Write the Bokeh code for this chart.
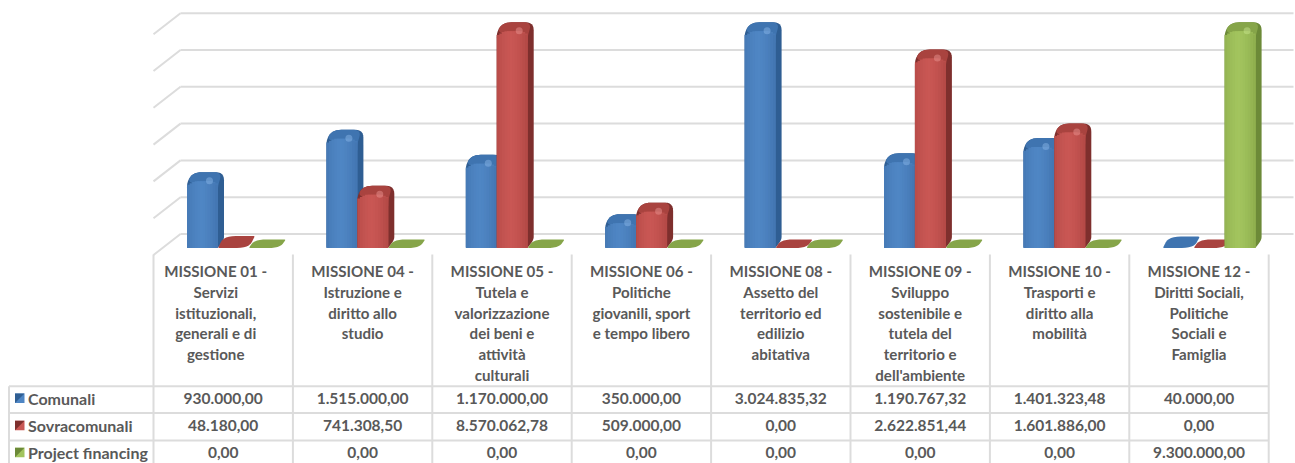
from bokeh.core.properties import value
from bokeh.embed import file_html
from bokeh.models import Range1d
from bokeh.plotting import figure
from bokeh.resources import INLINE

# Data table: one label block and three amounts per mission
missions = [
    ["MISSIONE 01 -", "Servizi", "istituzionali,", "generali e di", "gestione"],
    ["MISSIONE 04 -", "Istruzione e", "diritto allo", "studio"],
    ["MISSIONE 05 -", "Tutela e", "valorizzazione", "dei beni e", "attività", "culturali"],
    ["MISSIONE 06 -", "Politiche", "giovanili, sport", "e tempo libero"],
    ["MISSIONE 08 -", "Assetto del", "territorio ed", "edilizio", "abitativa"],
    ["MISSIONE 09 -", "Sviluppo", "sostenibile e", "tutela del", "territorio e", "dell'ambiente"],
    ["MISSIONE 10 -", "Trasporti e", "diritto alla", "mobilità"],
    ["MISSIONE 12 -", "Diritti Sociali,", "Politiche", "Sociali e", "Famiglia"],
]
comunali = [930000.00, 1515000.00, 1170000.00, 350000.00, 3024835.32, 1190767.32, 1401323.48, 40000.00]
sovracomunali = [48180.00, 741308.50, 8570062.78, 509000.00, 0.00, 2622851.44, 1601886.00, 0.00]
project_financing = [0.00, 0.00, 0.00, 0.00, 0.00, 0.00, 0.00, 9300000.00]
series_names = ["Comunali", "Sovracomunali", "Project financing"]
grid_ticks = [0, 500000, 1000000, 1500000, 2000000, 2500000, 3000000]
axis_max = 3000000

# Per-series shades: front face edge, front face centre, top face, side face, highlight
palette = [
    ("#4477B3", "#4F86C4", "#3F74B0", "#2F5E93", "#8DBBEA"),
    ("#B54A47", "#C95754", "#A9433F", "#7E2F2D", "#EE9A96"),
    ("#90B04F", "#A2C45E", "#86A549", "#6C8A38", "#CDE992"),
]

W, H = 1295, 463
TEXT = "#595959"
LINE = "#DCDCDC"
FONT = value("Lato")

# Page layout, in screen pixels
COL_LEFT, COL_STEP = 153.0, 139.4
TABLE_LEFT = 8.5
ROW_LINES = [385.7, 412.6, 440.0]
ROW_TEXT = [398.0, 425.2, 452.3]
HEAD_TOP, HEAD_LINE_STEP = 270.2, 20.9
BAR_LEFT, BAR_STEP, FACE_W, SKEW, DEPTH = 186.5, 30.9, 31.0, 6.0, 9.0

# Vertical scales: bars stand in the middle of the depth, the wall sits behind them
BAR_ZERO, BAR_SCALE = 239.0, 7.24e-5
WALL_ZERO, WALL_SCALE = 233.5, 36.8 / 500000

p = figure(
    width=W, height=H, output_backend="svg", toolbar_location=None,
    x_range=Range1d(0, W), y_range=Range1d(H, 0),
    x_axis_location=None, y_axis_location=None,
    min_border=0, outline_line_color=None, background_fill_color="white",
)
p.grid.visible = False
p.extra_y_ranges = {
    "bars": Range1d((BAR_ZERO - H) / BAR_SCALE, BAR_ZERO / BAR_SCALE),
    "wall": Range1d((WALL_ZERO - H) / WALL_SCALE, WALL_ZERO / WALL_SCALE),
}


def px(offset):
    """Convert a vertical pixel distance to units of the bar scale."""
    return offset / BAR_SCALE


def rounded(points):
    """Round each polygon corner; points are (x, y, radius) with y in bar-scale units."""
    out = []
    n = len(points)
    for i, (x, y, r) in enumerate(points):
        if r <= 0:
            out.append((x, y))
            continue
        xa, ya, _ = points[i - 1]
        xb, yb, _ = points[(i + 1) % n]
        y_p = y * BAR_SCALE

        def towards(xo, yo):
            d = max(((xo - x) ** 2 + (yo - y_p) ** 2) ** 0.5, 1e-6)
            t = min(r / d, 0.5)
            return x + (xo - x) * t, y_p + (yo - y_p) * t

        s = towards(xa, ya * BAR_SCALE)
        e = towards(xb, yb * BAR_SCALE)
        for k in range(7):
            t = k / 6
            qx = (1 - t) ** 2 * s[0] + 2 * t * (1 - t) * x + t ** 2 * e[0]
            qy = (1 - t) ** 2 * s[1] + 2 * t * (1 - t) * y_p + t ** 2 * e[1]
            out.append((qx, qy / BAR_SCALE))
    return [q[0] for q in out], [q[1] for q in out]


def mix(a, b, t):
    ca = [int(a[i:i + 2], 16) for i in (1, 3, 5)]
    cb = [int(b[i:i + 2], 16) for i in (1, 3, 5)]
    return "#" + "".join(f"{round(u + (v - u) * t):02X}" for u, v in zip(ca, cb))


def draw_bar(x0, amount, shades):
    edge, centre, top_c, side, glow = shades
    v = min(amount, axis_max)
    base = px(-8.5)
    height = (v - base) * BAR_SCALE

    # Next to no height: the bar collapses to a flat leaf lying on the floor
    if height < 16:
        lx, ly = rounded(
            [(x0, base, 1.5), (x0 + FACE_W, base, 12), (x0 + FACE_W + SKEW, v, 1.5), (x0 + SKEW, v, 12)])
        p.patch(lx, ly, y_range_name="bars", fill_color=top_c, line_color=None)
        return

    front_top = v - px(DEPTH)
    sx, sy = rounded(
        [(x0, base, 1.5), (x0 + FACE_W, base, 3), (x0 + FACE_W + SKEW, 0, 3),
         (x0 + FACE_W + SKEW, v, 8), (x0 + SKEW + 1, v, 8), (x0, front_top, 6)])
    p.patch(sx, sy, y_range_name="bars", fill_color=side, line_color=None)

    tx, ty = rounded(
        [(x0, front_top, 6), (x0 + SKEW + 1, v, 8), (x0 + FACE_W + SKEW - 2, v, 8),
         (x0 + FACE_W, front_top - px(5), 4), (x0 + FACE_W, front_top - px(12), 1)])
    p.patch(tx, ty, y_range_name="bars", fill_color=top_c, line_color=None)

    # Front face: each strip runs under its right-hand neighbour so no seams show
    strips = 12
    w = FACE_W / strips
    lefts, rights, tops, colours = [], [], [], []
    for k in range(strips):
        c = (k + 0.5) / strips
        t = 1 - min(abs(c - 0.45) / 0.5, 1) ** 1.5
        lefts.append(x0 + k * w)
        rights.append(x0 + min(k + 2, strips) * w)
        sag = max(0.0, 3.6 - min(k, strips - 1 - k) * 1.4)
        tops.append(front_top - px(sag))
        colours.append(mix(edge, centre, t))
    p.quad(left=lefts, right=rights, top=tops, bottom=[base] * strips,
           y_range_name="bars", fill_color=colours, line_color=None)
    p.scatter([x0 + 22.5], [front_top + px(0.5)], y_range_name="bars", size=7, marker="circle",
              fill_color=glow, fill_alpha=0.45, line_color=None)


# Back wall and side wall gridlines
p.segment(x0=[180] * len(grid_ticks), y0=grid_ticks, x1=[1293] * len(grid_ticks), y1=grid_ticks,
          y_range_name="wall", line_color=LINE, line_width=2)
p.segment(x0=[180] * len(grid_ticks), y0=grid_ticks, x1=[153] * len(grid_ticks),
          y1=[t - 21 / WALL_SCALE for t in grid_ticks],
          y_range_name="wall", line_color=LINE, line_width=2)

# Table rules
col_edges = [COL_LEFT + i * COL_STEP for i in range(len(missions) + 1)]
p.segment(x0=col_edges, y0=[254] * len(col_edges), x1=col_edges, y1=[H] * len(col_edges),
          line_color=LINE, line_width=2)
p.segment(x0=[TABLE_LEFT], y0=[ROW_LINES[0]], x1=[TABLE_LEFT], y1=[H], line_color=LINE, line_width=2)
p.segment(x0=[TABLE_LEFT] * 3, y0=ROW_LINES, x1=[col_edges[-1]] * 3, y1=ROW_LINES,
          line_color=LINE, line_width=2)

# Bars, series by series inside each mission so that later bars overlap earlier ones
all_series = [comunali, sovracomunali, project_financing]
for i in range(len(missions)):
    for s, series in enumerate(all_series):
        draw_bar(BAR_LEFT + i * COL_STEP + s * BAR_STEP, series[i], palette[s])


def amount_text(v):
    return f"{v:,.2f}".replace(",", "§").replace(".", ",").replace("§", ".")


# Column headings
hx, hy, ht = [], [], []
for i, lines in enumerate(missions):
    cx = COL_LEFT + (i + 0.5) * COL_STEP - (7.5 if i == 0 else 0)
    for k, line in enumerate(lines):
        hx.append(cx)
        hy.append(HEAD_TOP + k * HEAD_LINE_STEP)
        ht.append(line)
p.text(hx, hy, text=ht, text_font=FONT, text_font_style="bold", text_font_size="15.1px",
       text_color=TEXT, text_align="center", text_baseline="middle")

# Table amounts
nx, ny, nt = [], [], []
for r, series in enumerate(all_series):
    for i, v in enumerate(series):
        nx.append(COL_LEFT + (i + 0.5) * COL_STEP)
        ny.append(ROW_TEXT[r])
        nt.append(amount_text(v))
p.text(nx, ny, text=nt, text_font=FONT, text_font_style="bold", text_font_size="15.5px",
       text_color=TEXT, text_align="center", text_baseline="middle")

# Row names with their legend keys
p.text([27.5] * 3, ROW_TEXT, text=series_names, text_font=FONT, text_font_style="bold",
       text_font_size="16px", text_color=TEXT, text_align="left", text_baseline="middle")
for r, shades in enumerate(palette):
    y = ROW_TEXT[r]
    p.quad(left=[14.5], right=[24], top=[y - 5], bottom=[y + 4.5],
           fill_color=shades[1], line_color=None)
    p.patch([14.5, 24, 14.5], [y - 5, y - 5, y + 4.5], fill_color=shades[3], line_color=None)

with open("out.html", "w") as fh:
    fh.write(file_html(p, INLINE))
